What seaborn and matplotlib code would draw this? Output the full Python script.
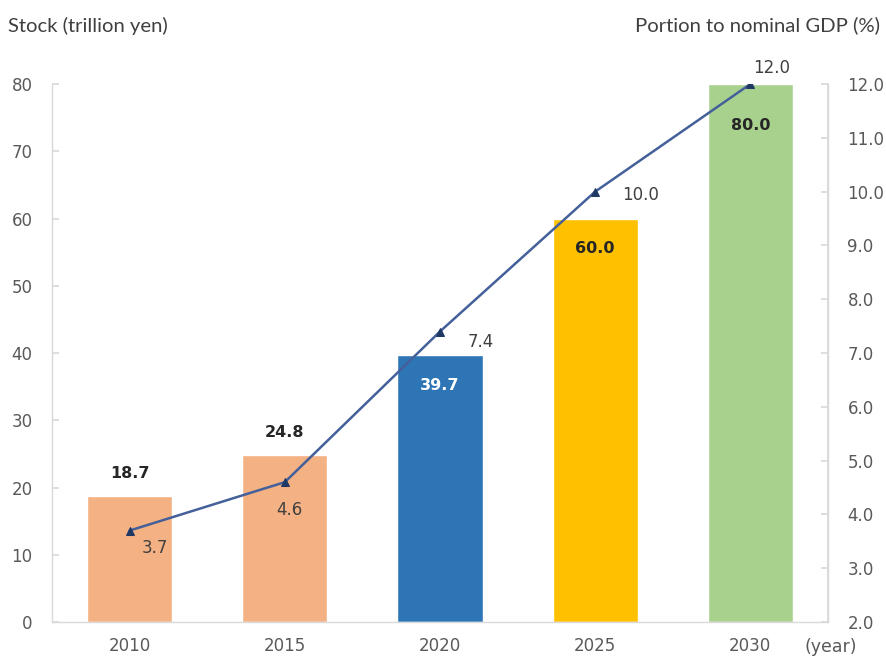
import matplotlib
matplotlib.use("Agg")
import matplotlib.pyplot as plt
import numpy as np
import pandas as pd
import seaborn as sns

years = ["2010", "2015", "2020", "2025", "2030"]
stock = [18.7, 24.8, 39.7, 60.0, 80.0]          # trillion yen
gdp_share = [3.7, 4.6, 7.4, 10.0, 12.0]          # % of nominal GDP
bar_colors = ["#F4B183", "#F4B183", "#2E75B6", "#FFC000", "#A9D18E"]
left_ticks = [0, 10, 20, 30, 40, 50, 60, 70, 80]
right_ticks = [2.0, 3.0, 4.0, 5.0, 6.0, 7.0, 8.0, 9.0, 10.0, 11.0, 12.0]

sns.set_theme(style="white")
plt.rcParams["font.family"] = ["DejaVu Sans"]

tick_color = "#595959"
spine_color = "#D9D9D9"
line_color = "#44609A"
marker_color = "#1F3864"

fig = plt.figure(figsize=(8.86, 6.59), dpi=100)
ax = fig.add_axes([0.0587, 0.0561, 0.8758, 0.8164])

df = pd.DataFrame({"year": years, "stock": stock})
sns.barplot(data=df, x="year", y="stock", hue="year", palette=bar_colors,
            width=0.55, legend=False, ax=ax, saturation=1, zorder=1)

ax.set_xlim(-0.5, 4.5)
ax.set_ylim(0, 80)
ax.set_yticks(left_ticks)
ax.set_xlabel("")
ax.set_ylabel("")

ax.spines["top"].set_visible(False)
for side in ["left", "bottom", "right"]:
    ax.spines[side].set_color(spine_color)
    ax.spines[side].set_linewidth(1.0)

ax.tick_params(axis="y", direction="in", length=5, color=spine_color,
               labelsize=12, labelcolor=tick_color, pad=14)
ax.tick_params(axis="x", which="major", length=0, labelsize=12,
               labelcolor=tick_color, pad=11)
ax.set_xticks(np.arange(0.5, 4.5, 1.0), minor=True)
ax.tick_params(axis="x", which="minor", direction="in", length=5,
               color=spine_color)

# bar value labels: above the two short bars, inside the tall ones
bar_label_offsets = [2.2, 2.2, -4.5, -4.5, -6.2]
for i, (v, off) in enumerate(zip(stock, bar_label_offsets)):
    col = "white" if i == 2 else "#262626"
    if off > 0:
        ax.text(i, v + off, f"{v:.1f}", ha="center", va="bottom",
                fontsize=11.5, fontweight="bold", color=col)
    else:
        ax.text(i, v + off, f"{v:.1f}", ha="center", va="center",
                fontsize=11.5, fontweight="bold", color=col, zorder=5)

# share of nominal GDP on the secondary axis
ax2 = ax.twinx()
ax2.set_position(ax.get_position())
sns.lineplot(x=np.arange(len(years)), y=gdp_share, ax=ax2, color=line_color,
             linewidth=1.8, marker="^", markersize=6,
             markerfacecolor=marker_color, markeredgecolor=marker_color,
             zorder=4)
ax2.set_ylim(2.0, 12.0)
ax2.set_yticks(right_ticks)
ax2.set_yticklabels([f"{t:.1f}" for t in right_ticks])
ax2.set_xlim(-0.5, 4.5)
for side in ["top", "left", "bottom"]:
    ax2.spines[side].set_visible(False)
ax2.spines["right"].set_color(spine_color)
ax2.tick_params(axis="y", direction="in", length=5, color=spine_color,
                labelsize=12, labelcolor=tick_color, pad=14)

line_label_offsets = [(0.16, -0.33), (0.03, -0.52), (0.26, -0.19),
                      (0.29, -0.07), (0.135, 0.3)]
for i, (v, (dx, dy)) in enumerate(zip(gdp_share, line_label_offsets)):
    ax2.text(i + dx, v + dy, f"{v:.1f}", ha="center", va="center",
             fontsize=12, color="#404040", zorder=6)

fig.text(0.009, 0.961, "Stock (trillion yen)", fontsize=14.6, family="Lato",
         color="#404040", ha="left", va="center")
fig.text(0.993, 0.961, "Portion to nominal GDP (%)", fontsize=14.6, family="Lato",
         color="#404040", ha="right", va="center")
fig.text(0.938, 0.018, "(year)", fontsize=12.5, color=tick_color,
         ha="center", va="center")

fig.savefig("out.png", dpi=100)
